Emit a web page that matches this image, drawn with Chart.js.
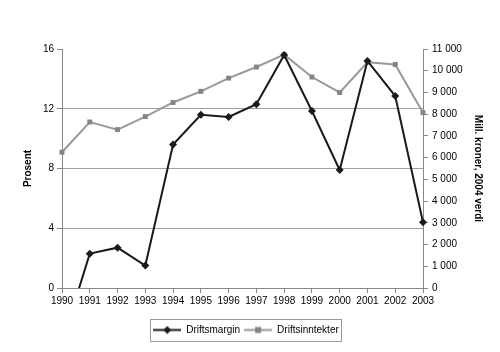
<!DOCTYPE html>
<html>
<head>
<meta charset="utf-8">
<script src="https://cdn.jsdelivr.net/npm/chart.js@4/dist/chart.umd.min.js"></script>
<style>
html,body{margin:0;padding:0;background:#fff;}
#wrap{width:500px;height:352px;}
</style>
</head>
<body>
<div id="wrap"><canvas id="c" width="500" height="352"></canvas></div>
<script>
const years = ['1990','1991','1992','1993','1994','1995','1996','1997','1998','1999','2000','2001','2002','2003'];
const driftsmargin = [-3.7, 2.3, 2.7, 1.5, 9.6, 11.6, 11.45, 12.3, 15.6, 11.85, 7.9, 15.2, 12.85, 4.4];
const driftsinntekter = [6250, 7640, 7290, 7890, 8540, 9050, 9660, 10170, 10740, 9710, 9000, 10390, 10290, 8070];
const seriesNames = ['Driftsmargin', 'Driftsinntekter'];
const leftTitle = 'Prosent';
const rightTitle = 'Mill. kroner, 2004 verdi';

const FONT = "'Liberation Sans', Arial, sans-serif";
const DARK = '#1a1a1a';
const GREY_LINE = '#999999';
const GREY_MARK = '#858585';

function legendIcon(lineColor, markColor, shape) {
  const cv = document.createElement('canvas');
  cv.width = 28; cv.height = 9;
  const g = cv.getContext('2d');
  g.strokeStyle = lineColor; g.lineWidth = 2;
  g.beginPath(); g.moveTo(0, 4.5); g.lineTo(28, 4.5); g.stroke();
  g.fillStyle = markColor;
  if (shape === 'diamond') {
    g.beginPath(); g.moveTo(14, 0.5); g.lineTo(18, 4.5); g.lineTo(14, 8.5); g.lineTo(10, 4.5); g.closePath(); g.fill();
  } else {
    g.fillRect(11, 1.5, 6, 6);
  }
  return cv;
}
const icons = [legendIcon(DARK, DARK, 'diamond'), legendIcon(GREY_LINE, GREY_MARK, 'square')];

const legendBorder = {
  id: 'legendBorder',
  afterLayout(chart) {
    const lg = chart.legend;
    if (lg) { lg.left -= 4; lg.right -= 4; }
  },
  afterDraw(chart) {
    const lg = chart.legend;
    if (!lg || !lg.legendHitBoxes || !lg.legendHitBoxes.length) return;
    const boxes = lg.legendHitBoxes;
    let l = Infinity, r = -Infinity, t = Infinity, b = -Infinity;
    boxes.forEach(h => { l = Math.min(l, h.left); r = Math.max(r, h.left + h.width); t = Math.min(t, h.top); b = Math.max(b, h.top + h.height); });
    const ctx = chart.ctx;
    ctx.save();
    ctx.strokeStyle = '#9a9a9a';
    ctx.lineWidth = 1;
    const cy = (t + b) / 2;
    ctx.strokeRect(Math.round(l - 3) + 0.5, Math.round(cy - 11) + 0.5, Math.round(r - l + 5), 22);
    ctx.restore();
  }
};

Chart.defaults.font.family = FONT;
Chart.defaults.font.size = 10;
Chart.defaults.color = '#000';

new Chart(document.getElementById('c'), {
  type: 'line',
  data: {
    labels: years,
    datasets: [
      {
        label: seriesNames[0],
        data: driftsmargin,
        yAxisID: 'y',
        borderColor: DARK,
        backgroundColor: DARK,
        borderWidth: 2,
        pointStyle: 'rectRot',
        pointRadius: 4,
        pointBorderWidth: 0,
        tension: 0,
        clip: {left: 10, top: 10, right: 10, bottom: 0}
      },
      {
        label: seriesNames[1],
        data: driftsinntekter,
        yAxisID: 'y2',
        borderColor: GREY_LINE,
        backgroundColor: GREY_MARK,
        borderWidth: 2,
        pointStyle: 'rect',
        pointRadius: 3.5,
        pointBorderWidth: 0,
        tension: 0,
        clip: false
      }
    ]
  },
  options: {
    responsive: false,
    animation: false,
    devicePixelRatio: 1,
    layout: {padding: {top: 49, left: 0, right: 0, bottom: 7}},
    plugins: {
      tooltip: {enabled: false},
      legend: {
        position: 'bottom',
        fullSize: true,
        labels: {
          usePointStyle: true,
          pointStyleWidth: 28,
          padding: 4,
          color: '#000',
          font: {size: 10, family: FONT},
          generateLabels(chart) {
            const items = Chart.defaults.plugins.legend.labels.generateLabels(chart);
            items.forEach((it, i) => { it.pointStyle = icons[i]; it.rotation = 0; });
            return items;
          }
        }
      }
    },
    scales: {
      x: {
        type: 'category',
        offset: false,
        grid: {drawOnChartArea: false, drawTicks: true, tickLength: 5, tickColor: '#888'},
        border: {color: '#888', width: 1},
        ticks: {maxRotation: 0, autoSkip: false, padding: 2, font: {size: 10}},
        afterFit(s) { s.height = 33; }
      },
      y: {
        position: 'left',
        min: 0, max: 16,
        ticks: {stepSize: 4, padding: 3, font: {size: 10}},
        grid: {
          color: ctx => (ctx.tick && (ctx.tick.value === 0 || ctx.tick.value === 16)) ? 'rgba(0,0,0,0)' : '#a0a0a0',
          tickColor: '#888', tickLength: 5, lineWidth: 1
        },
        border: {color: '#888', width: 1},
        title: {display: true, text: leftTitle, font: {size: 10, weight: 'bold'}, padding: {top: 22, bottom: 0}},
        afterFit(s) { s.width = 62; }
      },
      y2: {
        position: 'right',
        min: 0, max: 11000,
        ticks: {
          stepSize: 1000, padding: 4, font: {size: 10},
          callback: v => String(v).replace(/\B(?=(\d{3})+(?!\d))/g, ' ')
        },
        grid: {drawOnChartArea: false, tickColor: '#888', tickLength: 5},
        border: {color: '#888', width: 1},
        title: {display: true, text: rightTitle, font: {size: 10, weight: 'bold'}, padding: {top: 16, bottom: 0}},
        afterFit(s) { s.width = 77; }
      }
    }
  },
  plugins: [legendBorder]
});
</script>
</body>
</html>
